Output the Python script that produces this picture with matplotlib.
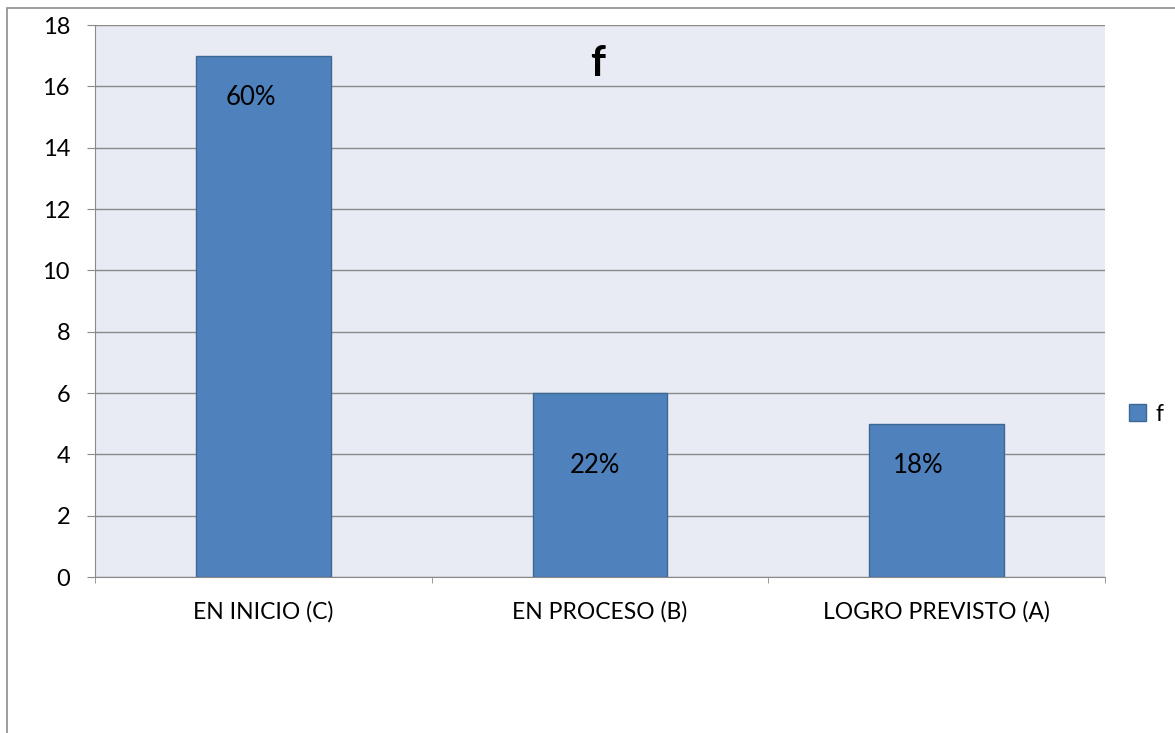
import matplotlib.pyplot as plt
from matplotlib.patches import Rectangle

categories = ["EN INICIO (C)", "EN PROCESO (B)", "LOGRO PREVISTO (A)"]
values = [17, 6, 5]
pct_labels = ["60%", "22%", "18%"]
series_name = "f"

plt.rcParams["font.family"] = ["Lato", "DejaVu Sans"]

fig = plt.figure(figsize=(11.75, 7.33), dpi=100)
ax = fig.add_axes([95 / 1175, 1 - 577 / 733, 1010 / 1175, 552 / 733])

# outer chart border (runs off the right and bottom edge)
fig.patches.append(Rectangle((7 / 1175, -0.1), 1.2, 1 - 8 / 733 + 0.1,
                             transform=fig.transFigure, fill=False,
                             edgecolor="#8c8c8c", linewidth=1.2))

ax.set_facecolor("#e8eaf4")
x = list(range(len(categories)))
ax.bar(x, values, width=0.4, color="#4f81bd", edgecolor="#3b6894",
       linewidth=1, label=series_name, zorder=3)

# label placement relative to the bar top (points), as moved by hand in the original
label_shift = [(-9, -30), (-4, -52), (-13, -30)]
for xi, v, lab, (dx, dy) in zip(x, values, pct_labels, label_shift):
    ax.annotate(lab, (xi, v), xytext=(dx, dy), textcoords="offset points",
                ha="center", va="center", fontsize=18.5, zorder=4)

ax.set_xlim(-0.5, 2.5)
ax.set_ylim(0, 18)
ax.set_yticks(range(0, 19, 2))
ax.yaxis.grid(True, color="#8a8a8a", linewidth=1, zorder=1)
ax.set_xticks(x)
ax.set_xticklabels(categories)
ax.set_xticks([-0.5, 0.5, 1.5, 2.5], minor=True)
ax.tick_params(axis="x", which="major", length=0, pad=17, labelsize=16.5)
ax.tick_params(axis="x", which="minor", length=4.5, color="#8a8a8a")
ax.tick_params(axis="y", length=6, color="#8a8a8a", labelsize=17, pad=12)

for side in ["top", "right"]:
    ax.spines[side].set_visible(False)
for side in ["left", "bottom"]:
    ax.spines[side].set_color("#8a8a8a")

ax.text(0.498, 0.93, series_name, transform=ax.transAxes, ha="center", va="center",
        fontsize=30, fontweight="bold")

leg = ax.legend(loc="center left", bbox_to_anchor=(1.003, 0.295), frameon=False,
                fontsize=16.5, handlelength=0.75, handleheight=0.75, handletextpad=0.4)

fig.savefig("out.png", dpi=100)
